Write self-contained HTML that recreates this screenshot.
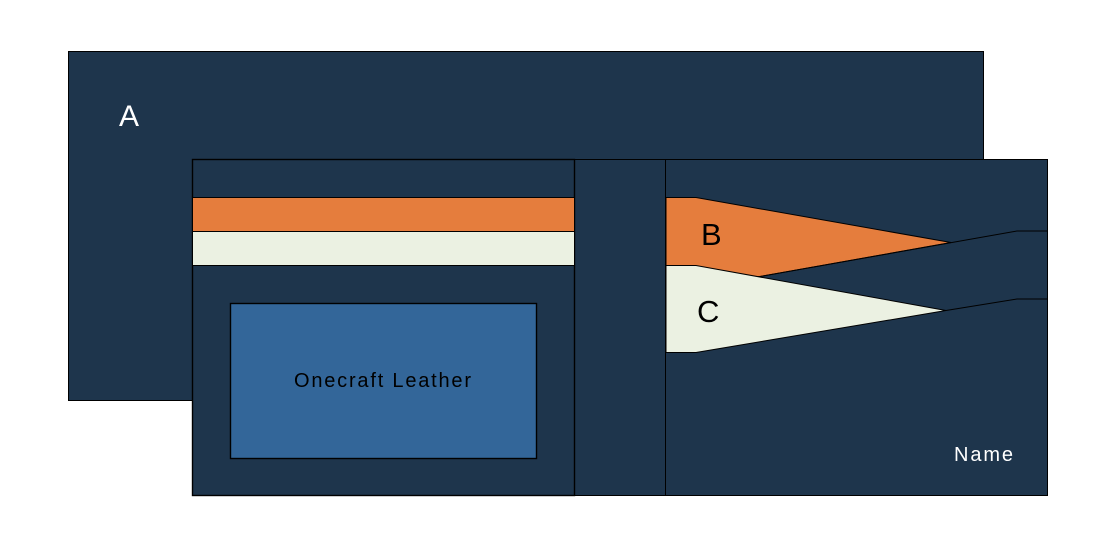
<!DOCTYPE html>
<html><head><meta charset="utf-8"><style>
html,body{margin:0;padding:0;background:#fff}
svg{display:block}
text{font-family:"Liberation Sans",sans-serif}
</style></head><body>
<svg width="1109" height="545" viewBox="0 0 1109 545" xmlns="http://www.w3.org/2000/svg">
<g stroke="#000" stroke-width="1">
<rect x="68.5" y="51.5" width="915" height="349" fill="#1e354c"/>
<rect x="574.5" y="159.5" width="91" height="336" fill="#1e354c"/>
<rect x="665.5" y="159.5" width="382" height="336" fill="#1e354c"/>
<rect x="192.5" y="159.5" width="382" height="336" fill="#1e354c" stroke-width="1.4"/>
<rect x="192.5" y="197.5" width="382" height="34" fill="#e57d3d"/>
<rect x="192.5" y="231.5" width="382" height="34" fill="#ebf1e2"/>
<rect x="230.5" y="303.5" width="306" height="155" fill="#336699" stroke-width="1.4"/>
<path d="M666 197.5H696L951 242.5L760 276.5H666Z" fill="#e57d3d"/>
<path d="M666 265.5H696L946 310.5L696 352.5H666Z" fill="#ebf1e2"/>
<path d="M760 276.5L1017 231H1047M946 310.5L1017 299H1047" fill="none"/>
</g>
<text x="119" y="126" font-size="30" fill="#fff">A</text>
<text x="701" y="245" font-size="31" fill="#000">B</text>
<text x="697" y="322" font-size="31" fill="#000">C</text>
<text x="294" y="387" font-size="20" textLength="177" lengthAdjust="spacing" fill="#000">Onecraft Leather</text>
<text x="954" y="461" font-size="20" textLength="59" lengthAdjust="spacing" fill="#fff">Name</text>
</svg>
</body></html>
